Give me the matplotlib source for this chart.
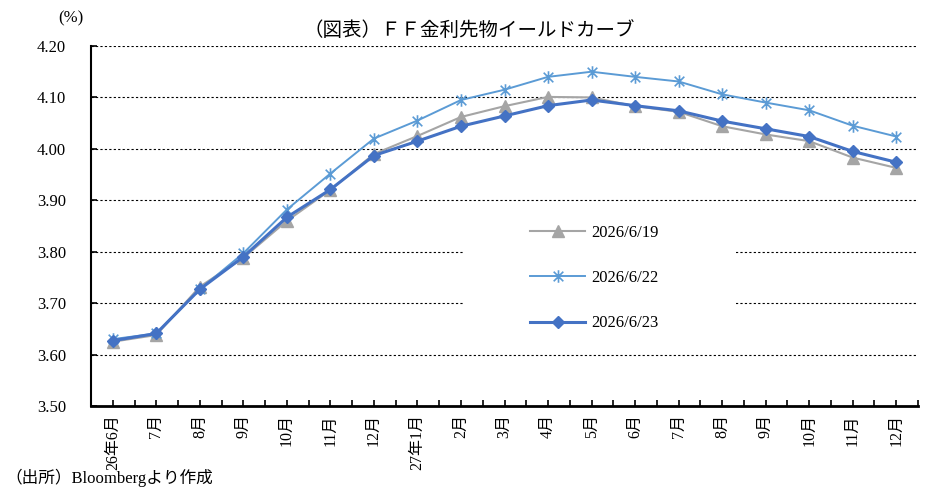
import matplotlib
matplotlib.use("Agg")
import matplotlib.pyplot as plt
from matplotlib.patches import Rectangle
from matplotlib.path import Path
from matplotlib.ticker import FixedLocator, FormatStrFormatter
import numpy as np

plt.rcParams['font.family'] = ['Liberation Serif', 'Noto Sans CJK JP', 'DejaVu Sans']

categories = ['26年6月', '7月', '8月', '9月', '10月', '11月', '12月', '27年1月', '2月', '3月',
              '4月', '5月', '6月', '7月', '8月', '9月', '10月', '11月', '12月']
s_0619 = [3.625, 3.638, 3.732, 3.788, 3.860, 3.920, 3.990, 4.025, 4.062, 4.083,
          4.101, 4.100, 4.083, 4.072, 4.044, 4.028, 4.015, 3.983, 3.963]
s_0622 = [3.630, 3.641, 3.727, 3.797, 3.882, 3.952, 4.020, 4.055, 4.095, 4.115,
          4.140, 4.150, 4.140, 4.131, 4.106, 4.090, 4.075, 4.045, 4.024]
s_0623 = [3.627, 3.641, 3.727, 3.790, 3.867, 3.921, 3.987, 4.015, 4.044, 4.064,
          4.084, 4.095, 4.084, 4.074, 4.054, 4.039, 4.024, 3.995, 3.974]
labels = ['2026/6/19', '2026/6/22', '2026/6/23']
yticks = [3.50, 3.60, 3.70, 3.80, 3.90, 4.00, 4.10, 4.20]

# asterisk marker: x plus vertical bar
star = Path([(-1, -1), (1, 1), (-1, 1), (1, -1), (0, -1.3), (0, 1.3)],
            [Path.MOVETO, Path.LINETO, Path.MOVETO, Path.LINETO, Path.MOVETO, Path.LINETO])

fig = plt.figure(figsize=(9.42, 4.96), dpi=100)
ax = fig.add_axes([91/942, 1-406/496, (918-91)/942, (406-46)/496])

x = np.arange(len(categories))
ax.plot(x, s_0619, color='#A5A5A5', lw=1.5, marker='^', ms=8, label=labels[0], zorder=4)
ax.plot(x, s_0622, color='#5B9BD5', lw=1.4, marker=star, ms=9, mew=1.2, mfc='none',
        label=labels[1], zorder=5)
ax.plot(x, s_0623, color='#4472C4', lw=2.2, marker='D', ms=6.5, label=labels[2], zorder=6)

ax.set_xlim(-0.5, len(categories) - 0.5)
ax.set_ylim(3.50, 4.20)
ax.set_yticks(yticks)
ax.yaxis.set_major_formatter(FormatStrFormatter('%.2f'))
ax.set_xticks(x)
ax.set_xticklabels(categories, rotation=90, fontsize=11.5)
ax.xaxis.set_minor_locator(FixedLocator(np.arange(-0.5, len(categories), 1.0)))
ax.tick_params(axis='x', which='both', direction='in', length=4, width=1.2, pad=6)
ax.tick_params(axis='y', direction='in', length=4, width=1.2, labelsize=12, pad=18)

for s in ['top', 'right']:
    ax.spines[s].set_visible(False)
ax.spines['left'].set_linewidth(1.5)
ax.spines['bottom'].set_linewidth(2)

ax.grid(axis='y', color='black', linestyle=(0, (2, 2)), linewidth=0.8)
ax.set_axisbelow(True)

ax.add_patch(Rectangle((0.45, 0.17), 0.33, 0.37, transform=ax.transAxes,
                       facecolor='white', edgecolor='none', zorder=2))

h, l = ax.get_legend_handles_labels()
leg = ax.legend(h, l, loc='center left', bbox_to_anchor=(0.513, 0.355), frameon=False,
                fontsize=12, handlelength=3.3, labelspacing=1.75, handletextpad=0.35)
leg.set_zorder(7)

fig.text(469/942, 1-30/496, '（図表）ＦＦ金利先物イールドカーブ', ha='center', va='center',
         fontsize=14, family=['Noto Sans CJK JP'])
fig.text(71/942, 1-18/496, '(%)', ha='center', va='center', fontsize=12)
fig.text(5/942, 1-478/496, '（出所）Bloombergより作成', ha='left', va='center', fontsize=12)

fig.savefig('out.png', dpi=100)
